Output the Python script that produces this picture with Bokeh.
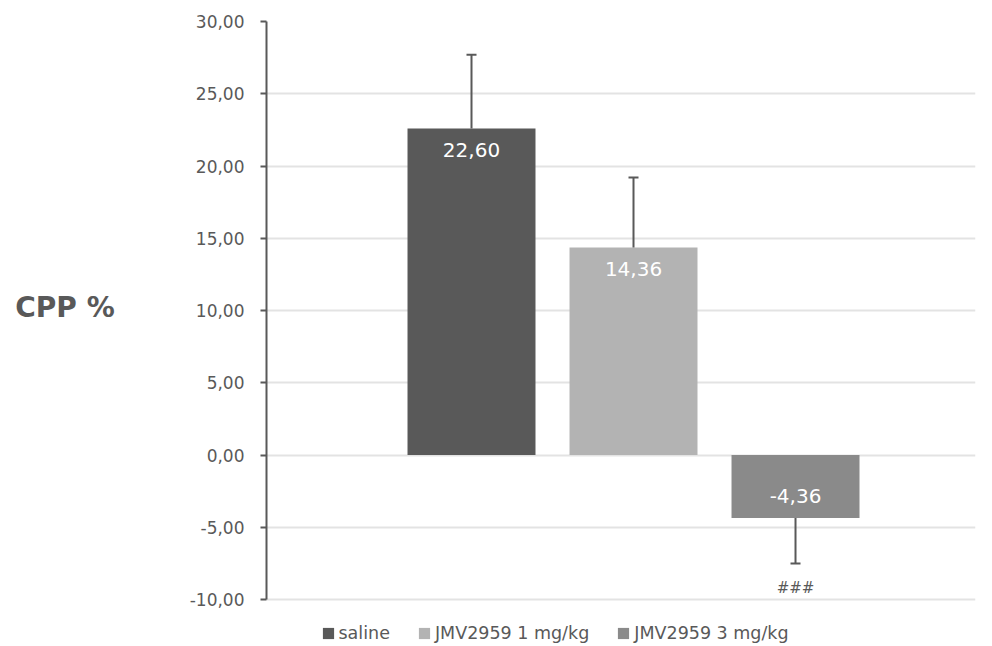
from bokeh.plotting import figure
from bokeh.models import ColumnDataSource, Legend, LegendItem, CustomJSTickFormatter, FixedTicker, Range1d
from bokeh.core.properties import value
from bokeh.embed import file_html
from bokeh.resources import INLINE

groups = ["saline", "JMV2959 1 mg/kg", "JMV2959 3 mg/kg"]
means = [22.60, 14.36, -4.36]
errors = [5.1, 4.85, 3.15]
labels = ["22,60", "14,36", "-4,36"]
marks = ["", "", "###"]
colors = ["#595959", "#b3b3b3", "#8a8a8a"]
y_ticks = [-10, -5, 0, 5, 10, 15, 20, 25, 30]

FONT = "DejaVu Sans"
TXT = "#595959"

xs = list(range(len(groups)))
ends = [m + e if m >= 0 else m - e for m, e in zip(means, errors)]

W, H = 992, 646
F_LEFT, F_RIGHT, F_TOP = 266, 975, 21
PX_PER_UNIT = (599 - 21) / 40.0
y_lo = -10 - (H - 599) / PX_PER_UNIT

p = figure(width=W, height=H, output_backend="svg", toolbar_location=None,
           x_range=Range1d(-1.2654, 3.111), y_range=Range1d(y_lo, 30),
           x_axis_location=None, min_border_left=F_LEFT, min_border_right=W - F_RIGHT,
           min_border_top=F_TOP, min_border_bottom=0)
p.outline_line_color = None
p.xgrid.visible = False
p.ygrid.grid_line_color = "#e3e3e3"
p.ygrid.grid_line_width = 2

ax = p.yaxis[0]
ax.bounds = (-10, 30)
ax.ticker = FixedTicker(ticks=y_ticks)
ax.formatter = CustomJSTickFormatter(code="return tick.toFixed(2).replace('.', ',');")
ax.axis_line_color = TXT
ax.axis_line_width = 2
ax.major_tick_line_color = TXT
ax.major_tick_line_width = 2
ax.major_tick_out = 6
ax.major_tick_in = 0
ax.minor_tick_line_color = None
ax.major_label_text_font = FONT
ax.major_label_text_font_size = "17px"
ax.major_label_text_color = TXT
ax.major_label_standoff = 16
ax.axis_label = "CPP %\n "
ax.axis_label_orientation = "horizontal"
ax.axis_label_text_font = FONT
ax.axis_label_text_font_style = "bold"
ax.axis_label_text_font_size = "28px"
ax.axis_label_text_line_height = 1.6
ax.axis_label_text_color = TXT
ax.axis_label_standoff = 72

items = []
for i in xs:
    src = ColumnDataSource(dict(x=[i], top=[means[i]]))
    r = p.vbar(x="x", top="top", bottom=0, width=0.79, source=src,
               fill_color=colors[i], line_color=None)
    items.append(LegendItem(label=groups[i], renderers=[r]))

esrc = ColumnDataSource(dict(x=xs, y0=means, y1=ends))
p.segment(x0="x", y0="y0", x1="x", y1="y1", source=esrc, line_color=TXT, line_width=2)
p.scatter(x="x", y="y1", source=esrc, marker="dash", size=10, line_color=TXT, line_width=2)

lsrc = ColumnDataSource(dict(x=xs, y=means, t=labels,
                             off=[22 if m >= 0 else -22 for m in means]))
p.text(x="x", y="y", text="t", y_offset="off", source=lsrc, text_color="white",
       text_font=value(FONT), text_font_size="20px", text_align="center",
       text_baseline="middle")

msrc = ColumnDataSource(dict(x=xs, y=ends, t=marks))
p.text(x="x", y="y", text="t", y_offset=24, source=msrc, text_color=TXT,
       text_font=value(FONT), text_font_size="15px", text_align="center",
       text_baseline="middle")

legend = Legend(items=items, orientation="horizontal", location=(54.5, 3),
                glyph_width=14, glyph_height=14, label_standoff=4, spacing=27,
                padding=0, margin=0, border_line_color=None, background_fill_alpha=0,
                label_height=20,
                label_text_font=FONT, label_text_font_size="17.5px", label_text_color=TXT)
p.add_layout(legend, "center")

open("out.html", "w").write(file_html(p, INLINE))
